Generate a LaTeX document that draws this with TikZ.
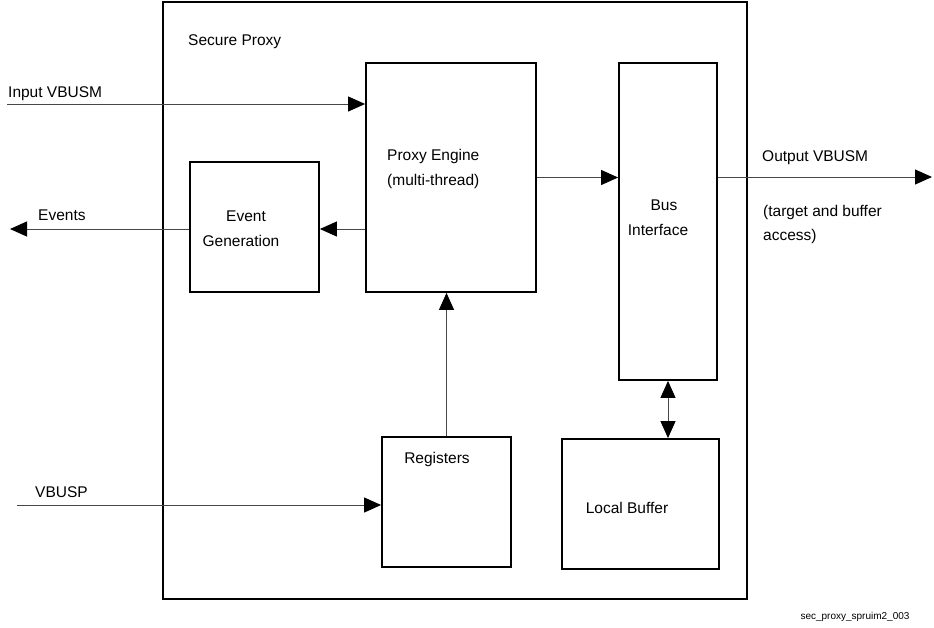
\documentclass[tikz,border=0pt]{standalone}
\usepackage{fontspec}
\setmainfont{Liberation Sans}
\usetikzlibrary{arrows.meta}
\begin{document}
\begin{tikzpicture}[x=1pt,y=-1pt,
  box/.style={draw=black,line width=1.8pt,inner sep=0pt,fill=none},
  lbl/.style={inner sep=0pt,font=\fontsize{15.5}{24.5}\selectfont},
  arr/.style={draw=black!72,line width=1pt,-{Triangle[length=17pt,width=15pt,fill=black,color=black]}},
  darr/.style={draw=black!72,line width=1pt,{Triangle[length=17pt,width=15pt,fill=black,color=black]}-{Triangle[length=17pt,width=15pt,fill=black,color=black]}}]
\useasboundingbox (0,0) rectangle (934,627);
% boxes
\node[box,minimum width=584pt,minimum height=597pt] (sp) at (455,300.5) {};
\node[box,minimum width=170pt,minimum height=229pt] (pe) at (451,177.5) {};
\node[box,minimum width=98pt,minimum height=317pt] (bi) at (668,221.5) {};
\node[box,minimum width=129pt,minimum height=130pt] (eg) at (254.5,227) {};
\node[box,minimum width=129pt,minimum height=130pt] (reg) at (446.5,502) {};
\node[box,minimum width=157pt,minimum height=130pt] (lb) at (640.5,504) {};
% texts
\node[lbl,anchor=west] (tsp) at (188,41.5) {Secure Proxy};
\node[lbl,anchor=west,align=left] (tpe) at (387,169) {Proxy Engine\\(multi-thread)};
\node[lbl,align=center] (tbi) at (658,217.5) {\hspace*{12pt}Bus\\Interface};
\node[lbl,align=center] (teg) at (241,228.5) {\hspace*{10pt}Event\\Generation};
\node[lbl] (treg) at (437,459.5) {Registers};
\node[lbl] (tlb) at (627,507.5) {Local Buffer};
\node[lbl,anchor=west] (tin) at (8,93.5) {Input VBUSM};
\node[lbl,anchor=west] (tev) at (38,215.5) {Events};
\node[lbl,anchor=west] (tvb) at (35,492.5) {VBUSP};
\node[lbl,anchor=west] (tout) at (762,157.5) {Output VBUSM};
\node[lbl,anchor=west,align=left] (tacc) at (763,224.5) {(target and buffer\\access)};
\node[inner sep=0pt,font=\fontsize{10}{12}\selectfont] (tfn) at (855,616.5) {sec\_proxy\_spruim2\_003};
% free ends
\coordinate (inS) at (7,104);
\coordinate (evE) at (10,229);
\coordinate (outE) at (932,177);
\coordinate (vbS) at (17,505);
% connectors
\draw[arr] (inS) -- (inS -| pe.west);
\draw[arr] (eg.west |- evE) -- (evE);
\draw[arr] (pe.west |- evE) -- (eg.east |- evE);
\draw[arr] (pe.east) -- (pe.east -| bi.west);
\draw[arr] (bi.east |- outE) -- (outE);
\draw[arr] (reg.north) -- (reg.north |- pe.south);
\draw[darr] (bi.south) -- (bi.south |- lb.north);
\draw[arr] (vbS) -- (vbS -| reg.west);
\end{tikzpicture}
\end{document}
